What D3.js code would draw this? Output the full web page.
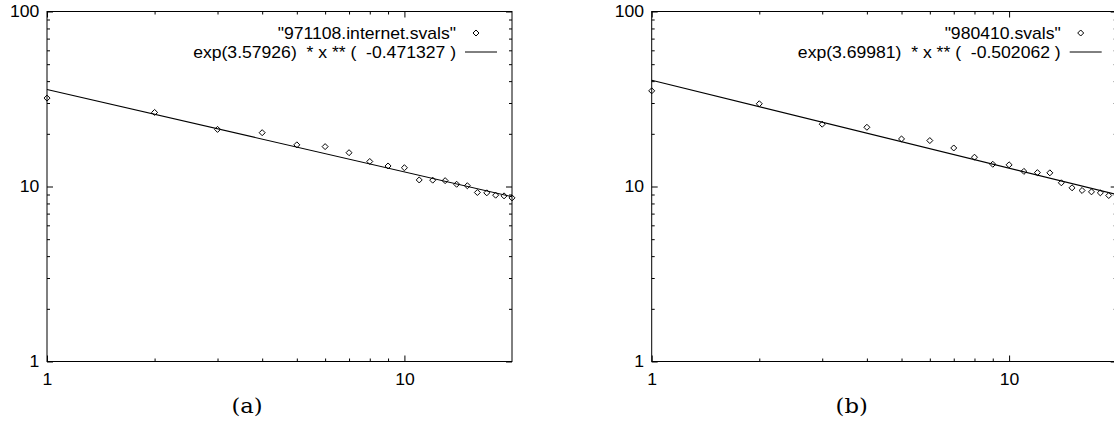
<!DOCTYPE html>
<html>
<head>
<meta charset="utf-8">
<script src="https://cdn.jsdelivr.net/npm/d3@7"></script>
<style>
  body { margin: 0; background: #fff; }
  svg text { white-space: pre; }
</style>
</head>
<body>
<svg id="chart" width="1114" height="421"></svg>
<script>
// rangs i valors llegits de la figura
const ranksA = [1, 2, 3, 4, 5, 6, 7, 8, 9, 10, 11, 12, 13, 14, 15, 16, 17, 18, 19, 20];
const valuesA = [32.0, 26.5, 21.2, 20.3, 17.3, 16.9, 15.6, 13.9, 13.1, 12.8,
                 10.9, 10.87, 10.8, 10.3, 10.1, 9.24, 9.2, 8.92, 8.84, 8.61];
const ranksB = [1, 2, 3, 4, 5, 6, 7, 8, 9, 10, 11, 12, 13, 14, 15, 16, 17, 18, 19];
const valuesB = [35.2, 29.7, 22.7, 21.8, 18.7, 18.3, 16.6, 14.7, 13.4, 13.3,
                 12.2, 12.0, 11.97, 10.5, 9.83, 9.49, 9.32, 9.2, 8.88];

// extrems de les rectes ajustades (exp(a) * x ** b)
const fitA = [[1, 35.85], [20, 8.74]];
const fitB = [[1, 40.44], [20, 8.99]];

const dataLabels = ['"971108.internet.svals"', '"980410.svals"'];
const fitLabels = ['exp(3.57926)  * x ** (  -0.471327 )', 'exp(3.69981)  * x ** (  -0.502062 )'];
const captions = ['(a)', '(b)'];

const xMajor = [1, 10];
const xMinor = [2, 3, 4, 5, 6, 7, 8, 9];
const yMajor = [1, 10, 100];
const yMinor = [2, 3, 4, 5, 6, 7, 8, 9, 20, 30, 40, 50, 60, 70, 80, 90];

const FS = 16, SX = 1.1;
const FONT = '"Liberation Sans", Arial, sans-serif';

const svg = d3.select('#chart');
const plotW = 465, plotTop = 11.5, plotH = 350;

const panels = [
    { left: 47, ranks: ranksA, values: valuesA, fit: fitA },
    { left: 651.7, ranks: ranksB, values: valuesB, fit: fitB }
];

panels.forEach((p, i) => {
    const g = svg.append('g').attr('transform', `translate(${p.left},0)`);

    const x = d3.scaleLog().domain([1, 20]).range([0, plotW]);
    const y = d3.scaleLog().domain([1, 100]).range([plotTop + plotH, plotTop]);

    const tidy = sel => {
        sel.select('.domain').remove();
        sel.selectAll('line').attr('stroke', '#000');
        sel.attr('font-size', FS).attr('font-family', FONT);
        sel.selectAll('text').attr('fill', '#000').attr('transform', `scale(${SX},1)`);
    };

    // eixos amb etiquetes
    g.append('g')
        .attr('transform', `translate(0,${plotTop + plotH})`)
        .call(d3.axisBottom(x).tickValues(xMajor).tickFormat(d3.format('d'))
            .tickSizeInner(-6).tickSizeOuter(0).tickPadding(12))
        .call(tidy);
    g.append('g')
        .call(d3.axisLeft(y).tickValues(yMajor).tickFormat(d3.format('d'))
            .tickSizeInner(-6).tickSizeOuter(0).tickPadding(7))
        .call(tidy);

    // marques menors i marques de l'altre costat
    const mirror = [
        [d3.axisBottom(x).tickValues(xMinor), `translate(0,${plotTop + plotH})`, -3],
        [d3.axisTop(x).tickValues(xMajor), `translate(0,${plotTop})`, -6],
        [d3.axisTop(x).tickValues(xMinor), `translate(0,${plotTop})`, -3],
        [d3.axisLeft(y).tickValues(yMinor), null, -3],
        [d3.axisRight(y).tickValues(yMajor), `translate(${plotW},0)`, -6],
        [d3.axisRight(y).tickValues(yMinor), `translate(${plotW},0)`, -3]
    ];
    mirror.forEach(([ax, tr, size]) => {
        const a = g.append('g');
        if (tr) a.attr('transform', tr);
        a.call(ax.tickFormat('').tickSizeInner(size).tickSizeOuter(0)).call(tidy);
    });

    // vora
    g.append('rect')
        .attr('x', 0).attr('y', plotTop)
        .attr('width', plotW).attr('height', plotH)
        .attr('fill', 'none').attr('stroke', '#000').attr('stroke-width', 1);

    // recta ajustada
    const line = d3.line().x(d => x(d[0])).y(d => y(d[1]));
    g.append('path')
        .attr('d', line(p.fit))
        .attr('fill', 'none').attr('stroke', '#000').attr('stroke-width', 1.1);

    // punts
    const diamond = d3.symbol().type(d3.symbolDiamond2).size(23);
    g.selectAll('path.pt')
        .data(p.ranks.map((r, k) => [r, p.values[k]]))
        .enter()
        .append('path')
        .attr('class', 'pt')
        .attr('d', diamond)
        .attr('transform', d => `translate(${x(d[0])},${y(d[1])})`)
        .attr('fill', 'none').attr('stroke', '#000').attr('stroke-width', 1);

    // llegenda
    const leg = g.append('g').attr('font-size', FS).attr('font-family', FONT);
    leg.append('text')
        .attr('transform', `translate(${plotW - 56},38.5) scale(${SX},1)`)
        .attr('text-anchor', 'end')
        .text(dataLabels[i]);
    leg.append('path')
        .attr('d', diamond)
        .attr('transform', `translate(${plotW - 36},33)`)
        .attr('fill', 'none').attr('stroke', '#000');
    leg.append('text')
        .attr('transform', `translate(${plotW - 56},58) scale(${SX},1)`)
        .attr('text-anchor', 'end')
        .text(fitLabels[i]);
    leg.append('line')
        .attr('x1', plotW - 47).attr('x2', plotW - 15)
        .attr('y1', 52).attr('y2', 52)
        .attr('stroke', '#000');

    // peu de figura
    g.append('text')
        .attr('transform', `translate(200,413) scale(1.08,1)`)
        .attr('text-anchor', 'middle')
        .attr('font-family', '"DejaVu Serif", "Liberation Serif", serif')
        .attr('font-size', 21)
        .text(captions[i]);
});
</script>
</body>
</html>
